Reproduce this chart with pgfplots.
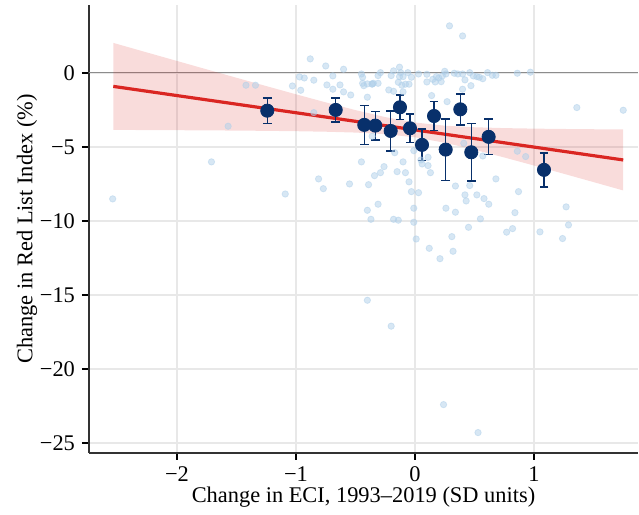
\documentclass[border=0pt]{standalone}
\usepackage{fontspec}
\setmainfont{Liberation Serif}
\usepackage{pgfplots}
\pgfplotsset{compat=1.18}
\usepackage{pgfplotstable}

\definecolor{scat}{RGB}{175,207,233}
\definecolor{navy}{RGB}{8,48,107}
\definecolor{redl}{RGB}{218,38,34}
\definecolor{gridc}{RGB}{232,232,232}

\pgfplotstableread{
x y
-2.54 -8.51
-1.71 -6.01
-1.57 -3.60
-1.42 -0.83
-1.34 -0.83
-1.09 -8.18
-1.03 -0.88
-0.97 -0.27
-0.93 -0.34
-0.96 -1.17
-0.88 0.95
-0.85 -0.49
-0.85 -2.68
-0.81 -7.16
-0.77 -7.82
-0.75 0.47
-0.74 -0.81
-0.69 -0.20
-0.69 -1.10
-0.63 -0.81
-0.60 -1.28
-0.60 0.25
-0.55 -7.50
-0.54 -1.49
-0.45 -0.07
-0.44 -0.29
-0.44 -0.70
-0.43 -0.86
-0.40 -1.64
-0.36 -0.76
-0.35 -0.70
-0.31 -0.18
-0.29 0.02
-0.31 -0.70
-0.22 -1.15
-0.20 -0.18
-0.18 0.14
-0.13 0.39
-0.12 0.02
-0.14 -0.63
-0.13 -0.25
-0.10 -0.25
-0.08 -0.76
-0.05 -0.76
-0.06 0.02
-0.03 -0.29
-0.18 -1.24
-0.10 -1.28
-0.36 -4.28
-0.45 -6.01
-0.26 -6.33
-0.17 -5.39
-0.10 -6.01
0.29 3.18
0.40 2.50
0.03 -0.07
0.10 -0.09
0.10 -0.61
0.15 -0.43
0.17 -0.61
0.18 -0.25
0.22 -0.59
0.25 0.11
0.26 -0.07
0.33 -0.02
0.36 -0.07
0.40 -0.07
0.42 -0.47
0.46 0.02
0.49 -0.20
0.52 -0.25
0.54 -0.29
0.57 -0.39
0.47 -0.86
0.61 0.02
0.65 -0.16
0.68 -0.16
0.40 -1.10
0.14 -1.53
0.27 -1.94
0.41 -4.75
0.11 -5.70
0.11 -6.26
0.05 -5.88
0.57 -5.61
0.86 -0.02
0.97 0.05
1.36 -2.34
1.75 -2.52
0.86 -5.29
0.93 -5.65
-0.39 -7.55
-0.34 -6.94
-0.29 -6.74
-0.08 -6.74
-0.05 -7.36
-0.03 -8.02
0.03 -8.09
0.13 -6.74
-0.31 -8.87
-0.40 -9.28
-0.37 -9.89
-0.18 -9.89
-0.14 -9.95
-0.01 -9.14
-0.01 -10.09
0.01 -11.22
0.12 -11.85
0.26 -9.14
0.34 -9.41
0.34 -7.64
0.42 -8.24
0.43 -8.65
0.46 -7.61
0.52 -8.24
0.58 -8.49
0.62 -8.87
0.55 -9.86
0.45 -10.43
0.31 -11.06
0.77 -10.76
0.82 -10.52
0.84 -9.44
0.87 -8.02
0.68 -7.16
1.05 -10.74
1.24 -11.19
1.29 -10.27
1.27 -9.05
0.21 -12.55
0.32 -12.05
-0.40 -15.36
-0.20 -17.11
0.24 -22.41
0.53 -24.30
-0.01 -5.25
-0.15 -6.67
0.06 -6.15
-0.40 -0.74
-0.36 -0.74
-0.11 -0.83
0.20 -0.34
0.23 -0.20
}\scatterdata

\pgfplotstableread{
x y e
-1.241 -2.55 0.87
-0.666 -2.50 0.82
-0.426 -3.51 1.31
-0.333 -3.56 0.96
-0.204 -3.92 1.36
-0.126 -2.32 0.82
-0.042 -3.74 0.97
0.059 -4.86 1.07
0.160 -2.91 0.98
0.258 -5.18 2.08
0.381 -2.46 1.05
0.473 -5.36 1.95
0.619 -4.32 1.20
1.084 -6.55 1.15
}\bindata

\begin{document}
\begin{tikzpicture}
\begin{axis}[
  width=274.5pt, height=224pt, scale only axis,
  xmin=-2.739, xmax=1.874, ymin=-25.68, ymax=4.59,
  axis x line*=bottom, axis y line*=left,
  axis line style={black!80, line width=0.65pt, -},
  xtick={-2,-1,0,1}, xticklabels={−2,−1,0,1},
  ytick={-25,-20,-15,-10,-5,0}, yticklabels={−25,−20,−15,−10,−5,0},
  tick align=outside, major tick length=3.5pt,
  tick style={black, line width=0.6pt},
  grid=major, grid style={gridc, line width=0.6pt},
  ticklabel style={font=\fontsize{11.2}{13}\selectfont},
  label style={font=\fontsize{11.2}{13}\selectfont},
  xlabel={Change in ECI, 1993–2019 (SD units)},
  ylabel={Change in Red List Index (\%)},
  xlabel style={at={(axis description cs:0.5,-0.0982)}, anchor=center},
  ylabel style={at={(axis description cs:-0.1129,0.5)}, anchor=center},
  clip=false,
]
\addplot[gray!90, line width=0.55pt] coordinates {(-2.739,0) (1.874,0)};
\addplot[only marks, mark=*, mark size=1.6pt, color=scat, opacity=0.5,
  mark options={solid, fill=scat, draw=scat}] table[x=x,y=y] {\scatterdata};
\addplot[fill=redl, fill opacity=0.16, draw=none] coordinates {
(-2.535,2.03) (-2.25,1.379) (-2,0.81) (-1.75,0.241) (-1.5,-0.325) (-1.25,-0.887) (-1,-1.443) (-0.75,-1.988) (-0.5,-2.511) (-0.25,-2.984) (0,-3.35) (0.25,-3.564) (0.5,-3.671) (0.75,-3.728) (1,-3.763) (1.25,-3.787) (1.5,-3.805) (1.75,-3.819)
(1.75,-7.941) (1.5,-7.375) (1.25,-6.813) (1,-6.257) (0.75,-5.712) (0.5,-5.189) (0.25,-4.716) (0,-4.35) (-0.25,-4.136) (-0.5,-4.029) (-0.75,-3.972) (-1,-3.937) (-1.25,-3.913) (-1.5,-3.895) (-1.75,-3.881) (-2,-3.87) (-2.25,-3.859) (-2.535,-3.85)
} -- cycle;
\addplot[redl, line width=1.6pt] coordinates {(-2.535,-0.909) (1.75,-5.88)};
\addplot[only marks, mark=*, mark size=3.3pt, mark options={fill=navy, draw=navy},
  error bars/.cd, y dir=both, y explicit,
  error bar style={navy, line width=0.75pt},
  error mark options={rotate=90, navy, line width=0.75pt, mark size=2.2pt}]
  table[x=x, y=y, y error=e] {\bindata};
\end{axis}
\pgfresetboundingbox
\path[use as bounding box] (-44.5pt,-31pt) rectangle (275pt,226.5pt);
\end{tikzpicture}
\end{document}
